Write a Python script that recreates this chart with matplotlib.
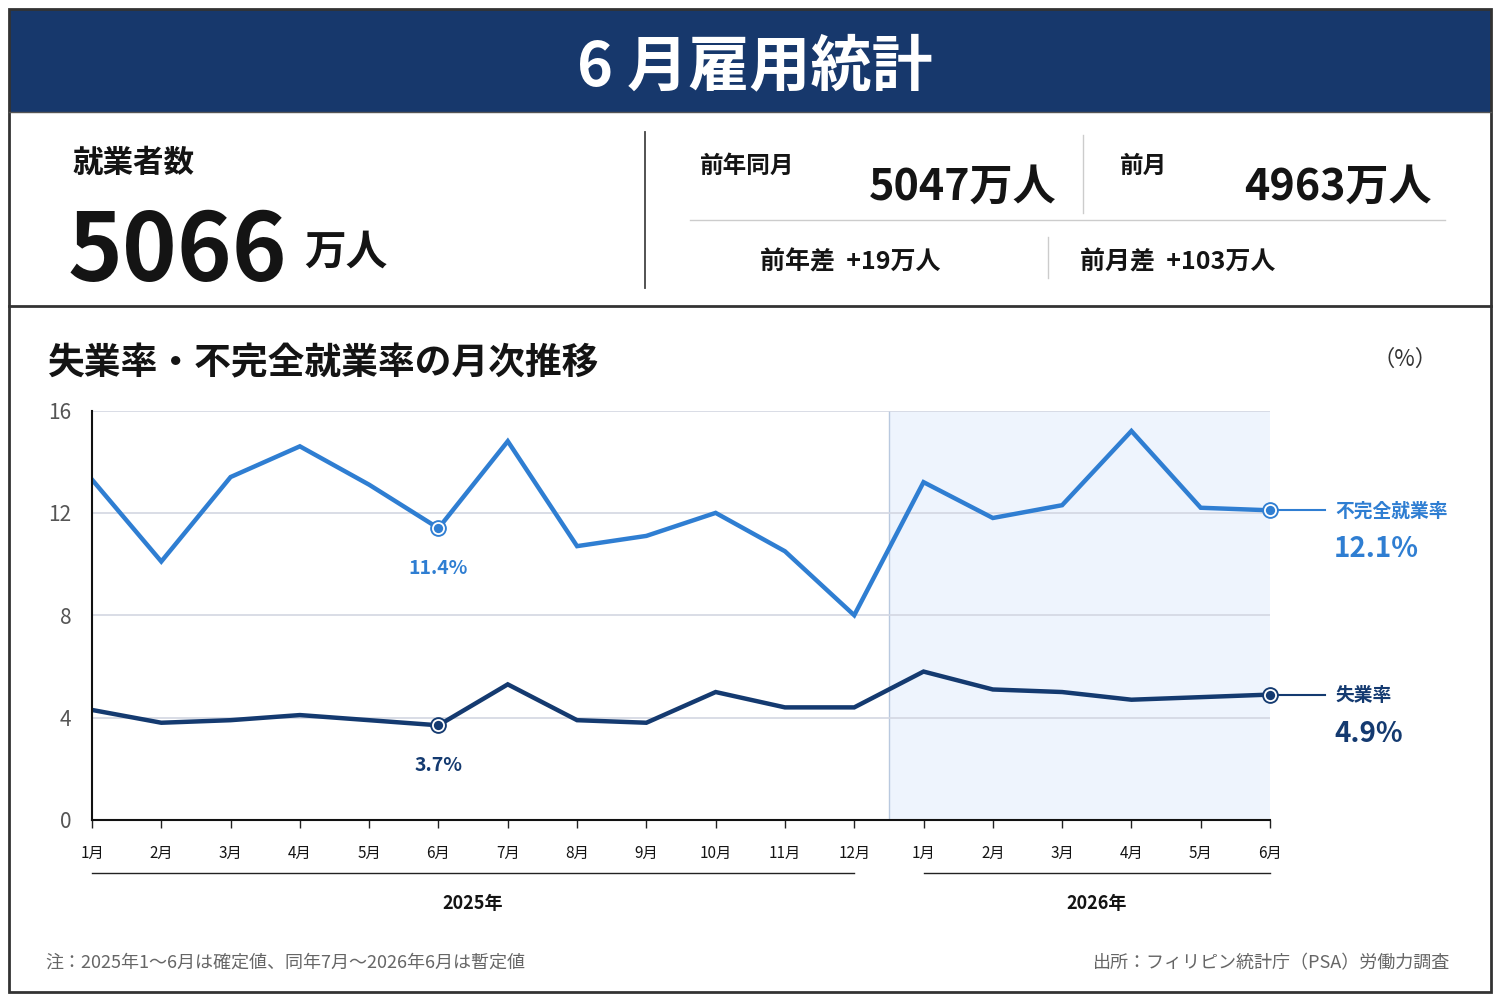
import matplotlib
matplotlib.use("Agg")
import matplotlib.pyplot as plt
from matplotlib.patches import Rectangle

plt.rcParams['font.family'] = ['Noto Sans CJK JP', 'DejaVu Sans']

# data
month_labels = ['1月', '2月', '3月', '4月', '5月', '6月', '7月', '8月', '9月', '10月', '11月', '12月',
                '1月', '2月', '3月', '4月', '5月', '6月']
underemp = [13.3, 10.1, 13.4, 14.6, 13.1, 11.4, 14.8, 10.7, 11.1, 12.0, 10.5, 8.0,
            13.2, 11.8, 12.3, 15.2, 12.2, 12.1]
unemp = [4.3, 3.8, 3.9, 4.1, 3.9, 3.7, 5.3, 3.9, 3.8, 5.0, 4.4, 4.4,
         5.8, 5.1, 5.0, 4.7, 4.8, 4.9]
years = ['2025年', '2026年']
year_span = [(0, 11), (12, 17)]
highlight_idx = [5, 17]

employed = '5066'
yoy_value = '5047万人'
mom_value = '4963万人'
yoy_diff = '前年差  +19万人'
mom_diff = '前月差  +103万人'

NAVY = '#17386c'
LIGHT = '#2f7ed2'
DARK = '#143a70'
INK = '#141414'

fig = plt.figure(figsize=(15, 10), dpi=100)
fig.patch.set_facecolor('white')

# background / layout layer in pixel coords
bg = fig.add_axes([0, 0, 1, 1])
bg.set_xlim(0, 1500)
bg.set_ylim(1000, 0)
bg.axis('off')

bg.add_patch(Rectangle((9, 9), 1482, 103, facecolor=NAVY, edgecolor='none'))
bg.add_patch(Rectangle((9, 9), 1482, 983, facecolor='none', edgecolor='#333333', lw=2))
bg.plot([9, 1491], [112, 112], color='#555555', lw=1)
bg.plot([9, 1491], [306, 306], color='#333333', lw=2)

bg.text(755, 68, '6 月雇用統計', color='white', fontsize=44, fontweight='bold',
        ha='center', va='center')

# stats block
bg.text(72, 163, '就業者数', fontsize=22, fontweight='bold', color=INK, va='center')
bg.text(68, 281, employed, fontsize=67, fontweight='bold', color=INK, va='baseline')
bg.text(304, 265, '万人', fontsize=30, fontweight='bold', color=INK, va='baseline')

bg.plot([645, 645], [132, 288], color='#444444', lw=1.3)
bg.plot([1083, 1083], [135, 213], color='#cccccc', lw=1)
bg.plot([690, 1445], [220, 220], color='#cccccc', lw=1)
bg.plot([1048, 1048], [237, 278], color='#cccccc', lw=1)

bg.text(700, 166, '前年同月', fontsize=17, fontweight='bold', color=INK, va='center')
bg.text(1056, 187, yoy_value, fontsize=31, fontweight='bold', color=INK, ha='right', va='center')
bg.text(1120, 166, '前月', fontsize=17, fontweight='bold', color=INK, va='center')
bg.text(1432, 187, mom_value, fontsize=31, fontweight='bold', color=INK, ha='right', va='center')
bg.text(760, 262, yoy_diff, fontsize=18, fontweight='bold', color=INK, va='center')
bg.text(1080, 262, mom_diff, fontsize=18, fontweight='bold', color=INK, va='center')

# chart header
bg.text(48, 364, '失業率・不完全就業率の月次推移', fontsize=26.5, fontweight='bold', color=INK, va='center')
bg.text(1405, 359, '（%）', fontsize=16, color='#333333', ha='center', va='center')

# footer
bg.text(45, 963, '注：2025年1～6月は確定値、同年7月～2026年6月は暫定値', fontsize=13,
        color='#666666', va='center')
bg.text(1450, 963, '出所：フィリピン統計庁（PSA）労働力調査', fontsize=13,
        color='#666666', ha='right', va='center')

# line chart
ax = fig.add_axes([92 / 1500, 0.18, 1178 / 1500, 0.4095])
ax.patch.set_alpha(0)
x = list(range(len(month_labels)))

ax.axvspan(11.5, 17, color='#eef4fd', zorder=0, lw=0)
ax.axvline(11.5, color='#b9c9df', lw=1, zorder=1)
for gy in [4, 8, 12, 16]:
    ax.axhline(gy, color='#d3d7e2', lw=1.2, zorder=1)

ax.plot(x, underemp, color=LIGHT, lw=3.2, zorder=3, solid_joinstyle='miter')
ax.plot(x, unemp, color=DARK, lw=3.2, zorder=3, solid_joinstyle='miter')

for series, col in [(underemp, LIGHT), (unemp, DARK)]:
    hx = [x[i] for i in highlight_idx]
    hy = [series[i] for i in highlight_idx]
    ax.plot(hx, hy, 'o', ms=11, color=col, zorder=4, clip_on=False)
    ax.plot(hx, hy, 'o', ms=8, markerfacecolor=col, markeredgecolor='white', mew=1.3,
            zorder=5, clip_on=False)

# mid-series callouts
i = highlight_idx[0]
ax.annotate(f'{underemp[i]}%', (x[i], underemp[i]), xytext=(0, -40), textcoords='offset pixels',
            ha='center', va='center', fontsize=14, fontweight='bold', color=LIGHT)
ax.annotate(f'{unemp[i]}%', (x[i], unemp[i]), xytext=(0, -40), textcoords='offset pixels',
            ha='center', va='center', fontsize=14, fontweight='bold', color=DARK)

# end labels
last = highlight_idx[1]
for series, col, name in [(underemp, LIGHT, '不完全就業率'), (unemp, DARK, '失業率')]:
    ax.plot([x[last], x[last] + 0.8], [series[last], series[last]], color=col, lw=1.5,
            clip_on=False, zorder=3)
    ax.annotate(name, (x[last], series[last]), xytext=(65, -1), textcoords='offset pixels',
                ha='left', va='center', fontsize=13.5, fontweight='bold', color=col)
    ax.annotate(f'{series[last]}%', (x[last], series[last]), xytext=(64, -39),
                textcoords='offset pixels', ha='left', va='center', fontsize=20,
                fontweight='bold', color=col)

ax.set_xlim(0, 17)
ax.set_ylim(0, 16)
ax.set_yticks([0, 4, 8, 12, 16])
ax.set_xticks(x)
ax.set_xticklabels(month_labels, fontsize=11, color=INK)
ax.tick_params(axis='x', direction='out', length=6, width=1, color='#222222', pad=12)
ax.tick_params(axis='y', length=0, pad=15, labelsize=15, labelcolor='#555555')
for s in ['top', 'right']:
    ax.spines[s].set_visible(False)
for s in ['left', 'bottom']:
    ax.spines[s].set_color('#111111')
    ax.spines[s].set_linewidth(1.5)
    ax.spines[s].set_zorder(6)

# year brackets
trans = ax.get_xaxis_transform()
for label, (a, b) in zip(years, year_span):
    ax.plot([a, b], [-0.129, -0.129], color='#222222', lw=1, transform=trans, clip_on=False)
    ax.text((a + b) / 2, -0.205, label, transform=trans, ha='center', va='center',
            fontsize=13, fontweight='bold', color=INK)

fig.savefig('out.png', dpi=100)
